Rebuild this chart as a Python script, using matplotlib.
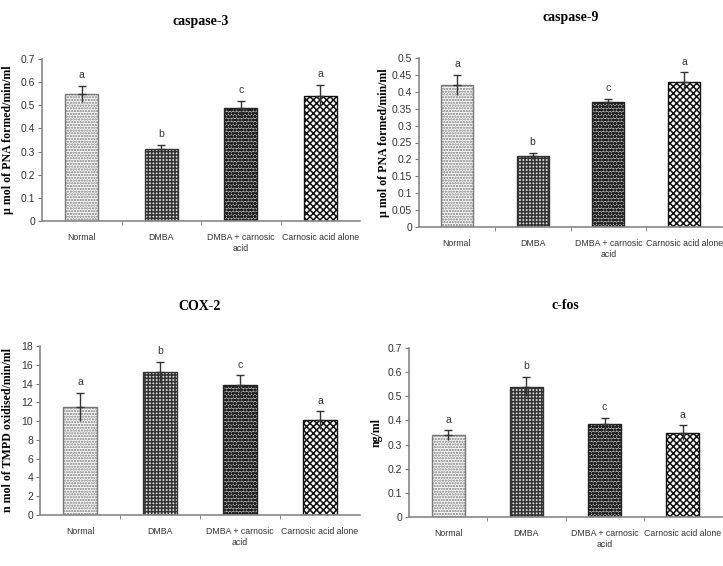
import matplotlib
matplotlib.use('Agg')
import matplotlib.pyplot as plt
import numpy as np

plt.rcParams['hatch.linewidth'] = 1.1

groups = ['Normal', 'DMBA', 'DMBA + carnosic\nacid', 'Carnosic acid alone']
letters = ['a', 'b', 'c', 'a']

casp3 = [0.55, 0.31, 0.49, 0.54]
casp3_err = [0.035, 0.02, 0.03, 0.048]
casp9 = [0.42, 0.21, 0.37, 0.43]
casp9_err = [0.03, 0.01, 0.01, 0.028]
cox2 = [11.5, 15.2, 13.8, 10.1]
cox2_err = [1.5, 1.1, 1.1, 0.95]
cfos = [0.34, 0.54, 0.385, 0.35]
cfos_err = [0.02, 0.04, 0.025, 0.03]

# hatch per group
hatches = ['......', '+++++', 'ooooo', 'xxxxx']
facecols = ['white', '#dddddd', '#bbbbbb', 'white']
edgecols = ['#777777', '#333333', '#222222', '#111111']

W, H = 723, 566
fig = plt.figure(figsize=(W / 100, H / 100), dpi=100)

tickfont = ['Liberation Sans', 'DejaVu Sans']
serif = ['Liberation Serif', 'DejaVu Serif']


def panel(box, vals, errs, title, ylabel, ymax, ystep, title_y, labx):
    l, r, b, t = box
    ax = fig.add_axes([l / W, (H - b) / H, (r - l) / W, (b - t) / H])
    x = np.arange(len(vals))
    for i in range(len(vals)):
        ax.bar(x[i], vals[i], width=0.42, color=facecols[i], edgecolor=edgecols[i],
               hatch=hatches[i], linewidth=1.0, zorder=2)
    zeros = [0] * len(errs)
    # upper part with cap, lower part without
    ax.errorbar(x, vals, yerr=[zeros, errs], fmt='none', ecolor='#333333',
                elinewidth=1.0, capsize=3, capthick=1.0, zorder=3)
    ax.errorbar(x, vals, yerr=[errs, zeros], fmt='none', ecolor='#333333',
                elinewidth=1.0, capsize=0, zorder=3)
    for i in range(len(vals)):
        ax.annotate(letters[i], (x[i], vals[i] + errs[i]), xytext=(0, 4),
                    textcoords='offset points', ha='center', va='bottom',
                    fontsize=7.5, family=tickfont, color='#333333')
    ax.set_xlim(-0.5, 3.5)
    ax.set_ylim(0, ymax)
    ticks = np.arange(0, ymax + ystep / 2, ystep)
    ax.set_yticks(ticks)
    ax.set_yticklabels(['%g' % round(v, 2) for v in ticks], family=tickfont,
                       fontsize=7.5, color='#333333')
    ax.set_xticks(x)
    ax.set_xticklabels(groups, family=tickfont, fontsize=6.3, color='#333333')
    ax.set_xticks([0.5, 1.5, 2.5], minor=True)
    ax.tick_params(axis='x', which='major', length=0, pad=9)
    ax.tick_params(axis='x', which='minor', length=3, color='#777777')
    ax.tick_params(axis='y', length=3, color='#777777', pad=2)
    for s in ['top', 'right']:
        ax.spines[s].set_visible(False)
    for s in ['left', 'bottom']:
        ax.spines[s].set_color('#888888')
        ax.spines[s].set_linewidth(1.2)
    ax.set_ylabel(ylabel, family=serif, fontweight='bold', fontsize=8.6)
    ax.yaxis.set_label_coords((labx - l) / (r - l), 0.5)
    fig.text((l + r) / 2 / W, 1 - title_y / H, title, ha='center', va='center',
             family=serif, fontweight='bold', fontsize=10)
    return ax


panel((42, 360, 221, 59), casp3, casp3_err, 'caspase-3',
      'µ mol of PNA formed/min/ml', 0.7, 0.1, 21, 14)
panel((419, 722, 227, 58), casp9, casp9_err, 'caspase-9',
      'µ mol of PNA formed/min/ml', 0.5, 0.05, 18, 390)
panel((40, 360, 515, 346), cox2, cox2_err, 'COX-2',
      'n mol of TMPD oxidised/min/ml', 18, 2, 306, 14)
panel((409, 722, 517, 348), cfos, cfos_err, 'c-fos',
      'ng/ml', 0.7, 0.1, 305, 383)

fig.savefig('out.png', dpi=100)
